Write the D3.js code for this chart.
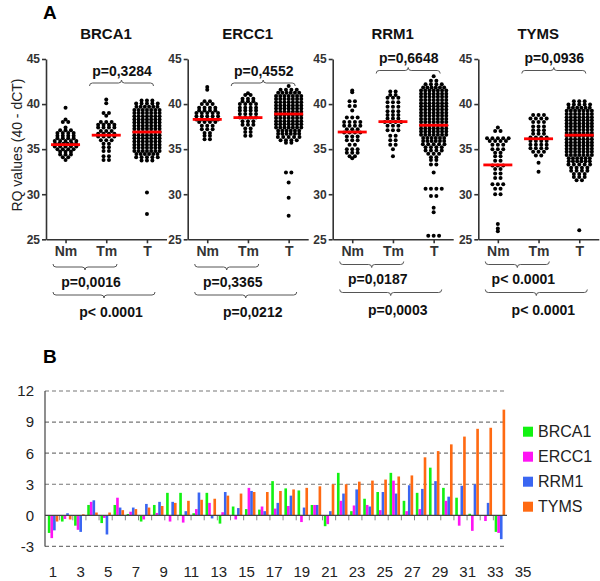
<!DOCTYPE html>
<html>
<head>
<meta charset="utf-8"/>
<script src="https://d3js.org/d3.v7.min.js"></script>
<style>
  body { margin: 0; background: #fff; }
  svg text { font-family: "Liberation Sans", Arial, Helvetica, sans-serif; }
</style>
</head>
<body>
<div id="chart"></div>
<script>
// ---- panel A data ----
var genes = ["BRCA1", "ERCC1", "RRM1", "TYMS"];
var groups = ["Nm", "Tm", "T"];
var rqTicks = [25, 30, 35, 40, 45];

// each row: [RQ value, number of dots side by side in that row]
var brcaNm = [[39.6,1],[38.3,1],[38.0,2],[37.4,1],[37.1,3],[36.8,4],[36.5,4],[36.2,4],[35.9,5],[35.6,6],[35.3,5],[35.0,4],[34.7,3],[34.4,3],[34.1,2],[33.8,1]];
var brcaTm = [[40.5,1],[40.1,1],[39.0,2],[38.7,1],[38.0,3],[37.7,4],[37.4,4],[37.0,3],[36.7,4],[36.4,4],[36.0,3],[35.6,2],[35.2,2],[34.8,2],[34.2,2],[33.8,2]];
var brcaT = [[40.4,3],[40.05,5],[39.7,6],[39.35,7],[39.0,7],[38.65,7],[38.3,7],[37.95,7],[37.6,7],[37.25,7],[36.9,7],[36.55,7],[36.2,7],[35.85,7],[35.5,7],[35.15,7],[34.8,7],[34.45,6],[34.1,5],[33.75,3],[30.2,1],[27.8,1]];

var erccNm = [[41.9,1],[41.6,1],[40.3,2],[40.0,3],[39.6,4],[39.3,4],[39.0,5],[38.65,5],[38.3,5],[38.0,4],[37.6,3],[37.2,3],[36.8,2],[36.5,2],[36.1,2]];
var erccTm = [[41.2,1],[41.0,2],[40.6,3],[40.3,3],[40.0,4],[39.6,4],[39.3,4],[38.9,4],[38.5,4],[38.1,3],[37.7,3],[37.3,2],[36.9,2],[36.5,2]];
var erccT = [[42.0,1],[41.6,4],[41.25,6],[40.9,7],[40.55,7],[40.2,7],[39.85,7],[39.5,7],[39.15,7],[38.8,7],[38.45,7],[38.1,7],[37.75,7],[37.4,7],[37.05,6],[36.7,6],[36.35,5],[36.0,4],[35.7,2],[32.4,2],[31.3,1],[29.6,1],[27.6,1]];

var rrmNm = [[41.5,1],[41.3,1],[40.3,2],[39.8,2],[39.3,1],[38.5,3],[38.0,4],[37.6,4],[37.2,3],[36.85,4],[36.4,3],[36.0,3],[35.5,2],[35.0,3],[34.6,3],[34.2,2],[34.0,1]];
var rrmTm = [[41.4,2],[41.0,2],[40.7,3],[40.2,3],[39.7,3],[39.2,3],[38.8,3],[38.4,3],[38.0,4],[37.6,3],[37.1,3],[36.5,2],[36.0,2],[35.5,2],[35.0,1],[34.2,1]];
var rrmT = [[43.1,1],[42.6,2],[42.2,4],[41.85,6],[41.5,7],[41.15,7],[40.8,7],[40.45,7],[40.1,7],[39.75,7],[39.4,7],[39.05,7],[38.7,7],[38.35,7],[38.0,7],[37.65,7],[37.3,7],[36.95,7],[36.6,7],[36.25,6],[35.9,6],[35.55,5],[35.2,4],[34.85,4],[34.5,3],[34.1,2],[33.8,2],[33.3,2],[32.4,1],[30.6,4],[29.8,2],[28.5,1],[28.0,1],[25.4,3]];

var tymsNm = [[37.4,1],[37.0,2],[36.2,5],[35.9,4],[35.5,3],[35.0,3],[34.6,2],[34.2,2],[33.7,2],[33.2,3],[32.8,2],[32.3,2],[31.8,2],[31.1,3],[30.6,2],[30.0,2],[26.7,1],[26.2,1],[25.9,1]];
var tymsTm = [[38.8,3],[38.4,4],[38.0,3],[37.5,3],[37.1,3],[36.7,3],[36.3,4],[35.9,4],[35.5,4],[35.1,4],[34.7,3],[34.3,2],[33.5,1],[32.5,1]];
var tymsT = [[40.3,3],[39.95,5],[39.6,6],[39.25,7],[38.9,7],[38.55,7],[38.2,7],[37.85,7],[37.5,7],[37.15,7],[36.8,7],[36.45,7],[36.1,7],[35.75,7],[35.4,7],[35.05,7],[34.7,7],[34.35,7],[34.0,6],[33.65,6],[33.3,5],[32.95,4],[32.6,4],[32.25,3],[31.9,3],[31.55,2],[26.0,1]];

var medians = [[35.5, 36.55, 36.9], [38.3, 38.5, 38.9], [36.9, 38.05, 37.65], [33.25, 36.15, 36.55]];
var pTmT = ["p=0,3284", "p=0,4552", "p=0,6648", "p=0,0936"];
var pNmTm = ["p=0,0016", "p=0,3365", "p=0,0187", "p< 0.0001"];
var pNmT = ["p< 0.0001", "p=0,0212", "p=0,0003", "p< 0.0001"];

// ---- panel B data ----
var series = ["BRCA1", "ERCC1", "RRM1", "TYMS"];
var patients = d3.range(1, 36);
var brca1Fc = [-1.7,-0.6,-1.0,1.0,-0.75,1.0,0.13,-0.6,1.0,2.17,2.17,0.2,2.17,-0.8,0.85,0.6,0.55,3.3,2.6,2.4,1.0,-1.05,4.1,0.4,1.6,2.25,4.1,1.4,2.17,4.6,2.65,1.7,0.15,0,-1.6];
var ercc1Fc = [-2.2,-0.35,-1.4,1.3,-0.25,1.7,0.35,-0.4,0.23,-0.6,-0.7,0.6,1.2,0.3,-0.4,2.65,0.85,0.65,0.9,-0.65,1.0,-0.85,1.4,0.95,1.0,0.5,3.35,0.4,0.6,0,1.4,-1.0,-1.5,-0.55,-1.7];
var rrm1Fc = [-1.45,0.2,-1.6,1.45,-1.85,0.75,0.75,1.1,1.3,1.3,0.4,2.2,-0.3,2.25,0.7,2.35,0.4,1.2,1.9,0.75,1.0,0.4,2.1,2.5,0.85,2.25,2.1,2.9,2.55,3.3,1.8,2.85,3.0,1.2,-2.3];
var tymsFc = [-0.6,-0.4,0.1,0.27,0.27,0.5,0.6,0.75,0.9,1.2,1.4,1.5,1.6,1.9,2.1,2.25,2.25,2.35,2.5,2.65,2.8,3.0,3.0,3.25,3.35,3.45,3.75,3.85,5.6,6.2,6.85,7.6,8.35,8.45,10.2];
var seriesColors = ["#12f212", "#ff14f4", "#3a66f2", "#ff6a12"];
var fcTicks = [-3, 0, 3, 6, 9, 12];
var fcLabels = [1,3,5,7,9,11,13,15,17,19,21,23,25,27,29,31,33,35];

var scatter = [[brcaNm, brcaTm, brcaT], [erccNm, erccTm, erccT], [rrmNm, rrmTm, rrmT], [tymsNm, tymsTm, tymsT]];
var fcData = [brca1Fc, ercc1Fc, rrm1Fc, tymsFc];

var svg = d3.select('#chart').append('svg').attr('width', 600).attr('height', 581);

// ================= panel A =================
svg.append('text').attr('x', 43).attr('y', 19).attr('font-size', 19).attr('font-weight', 'bold').text('A');

svg.append('text')
  .attr('transform', 'translate(22,145) rotate(-90)')
  .attr('text-anchor', 'middle').attr('font-size', 14).attr('fill', '#222')
  .text('RQ values (40 - dCT)');

var yA = d3.scaleLinear().domain([25, 45]).range([239.3, 59]);
var panelX = [46, 187.7, 332.7, 478.3];
var topShift = [0, 0, -12.5, -12.5];
var botShift = [0, 0, -2.5, -2.5];

function brace(x1, x2, y, dir) {
  // dir = -1 : tip points up, dir = 1 : tip points down
  var h = 3, m = (x1 + x2) / 2;
  return 'M' + x1 + ',' + (y - dir * h) +
    ' Q' + x1 + ',' + y + ' ' + (x1 + h) + ',' + y +
    ' L' + (m - h) + ',' + y +
    ' Q' + m + ',' + y + ' ' + m + ',' + (y + dir * h) +
    ' Q' + m + ',' + y + ' ' + (m + h) + ',' + y +
    ' L' + (x2 - h) + ',' + y +
    ' Q' + x2 + ',' + y + ' ' + x2 + ',' + (y - dir * h);
}

genes.forEach(function(g, i) {
  var gp = svg.append('g').attr('transform', 'translate(' + panelX[i] + ',0)');
  var x = d3.scalePoint().domain(groups).range([0, 120.5]).padding(0.48);

  gp.append('text').attr('x', 60).attr('y', 39).attr('text-anchor', 'middle')
    .attr('font-size', 15).attr('font-weight', 'bold').attr('fill', '#111').text(g);

  var ya = gp.append('g').call(d3.axisLeft(yA).tickValues(rqTicks).tickSize(4).tickSizeOuter(0).tickPadding(2));
  var xa = gp.append('g').attr('transform', 'translate(0,239.3)')
    .call(d3.axisBottom(x).tickSize(4).tickSizeOuter(0).tickPadding(3));
  [ya, xa].forEach(function(a) {
    a.selectAll('path, line').attr('stroke', '#333').attr('stroke-width', 1.6);
    a.selectAll('text').attr('font-weight', 'bold').attr('fill', '#333')
      .style('font-family', '"Liberation Sans", Arial, sans-serif');
  });
  ya.selectAll('text').attr('font-size', 12);
  xa.selectAll('text').attr('font-size', 14);

  // dots, rows laid out side by side (dense rows packed, sparse rows spread)
  groups.forEach(function(grp, k) {
    var cx = x(grp);
    scatter[i][k].forEach(function(row) {
      var n = row[1];
      var gap = n >= 6 ? 4.2 : 5.4;
      gp.selectAll(null).data(d3.range(n)).enter().append('circle')
        .attr('cx', function(j) { return cx + (j - (n - 1) / 2) * gap; })
        .attr('cy', yA(row[0]))
        .attr('r', 2)
        .attr('fill', '#000');
    });
  });

  // medians
  gp.selectAll('.med').data(medians[i]).enter().append('line')
    .attr('x1', function(d, k) { return x(groups[k]) - 14.5; })
    .attr('x2', function(d, k) { return x(groups[k]) + 14.5; })
    .attr('y1', function(d) { return yA(d); })
    .attr('y2', function(d) { return yA(d); })
    .attr('stroke', '#f00').attr('stroke-width', 2.8);

  // p values
  var ty = topShift[i], by = botShift[i];
  gp.append('path').attr('d', brace(43.5, 107.5, 83 + ty, -1))
    .attr('fill', 'none').attr('stroke', '#555').attr('stroke-width', 1);
  gp.append('text').attr('x', 76).attr('y', 75.5 + ty).attr('text-anchor', 'middle')
    .attr('font-size', 14).attr('font-weight', 'bold').attr('fill', '#111').text(pTmT[i]);

  gp.append('path').attr('d', brace(7, 71, 267 + by, 1))
    .attr('fill', 'none').attr('stroke', '#555').attr('stroke-width', 1);
  gp.append('text').attr('x', 45).attr('y', 286.5 + by).attr('text-anchor', 'middle')
    .attr('font-size', 14).attr('font-weight', 'bold').attr('fill', '#111').text(pNmTm[i]);

  gp.append('path').attr('d', brace(7, 109, 295 + by, 1))
    .attr('fill', 'none').attr('stroke', '#555').attr('stroke-width', 1);
  gp.append('text').attr('x', 65).attr('y', 317 + by).attr('text-anchor', 'middle')
    .attr('font-size', 14).attr('font-weight', 'bold').attr('fill', '#111').text(pNmT[i]);
});

// ================= panel B =================
svg.append('text').attr('x', 43).attr('y', 363).attr('font-size', 19).attr('font-weight', 'bold').text('B');

var xB = d3.scaleBand().domain(patients).range([46.5, 506.5]).paddingInner(0.2).paddingOuter(0.1);
var xSub = d3.scaleBand().domain(d3.range(4)).range([0, xB.bandwidth()]);
var yB = d3.scaleLinear().domain([-3, 12]).range([546.4, 391]);
var xLab = d3.scaleLinear().domain([1, 35]).range([53, 523]);

svg.selectAll('.grid').data(fcTicks.filter(function(t) { return t !== 0; })).enter().append('line')
  .attr('x1', 45).attr('x2', 507)
  .attr('y1', function(d) { return yB(d); }).attr('y2', function(d) { return yB(d); })
  .attr('stroke', '#777').attr('stroke-width', 1.2).attr('stroke-dasharray', '4,3');

svg.selectAll('.ylab').data(fcTicks).enter().append('text')
  .attr('x', 34).attr('y', function(d) { return yB(d); }).attr('dy', '0.36em')
  .attr('text-anchor', 'end').attr('font-size', 15).attr('fill', '#222')
  .text(function(d) { return d; });

series.forEach(function(s, k) {
  svg.selectAll('.bar' + k).data(fcData[k]).enter().append('rect')
    .attr('x', function(d, i) { return xB(patients[i]) + xSub(k); })
    .attr('y', function(d) { return yB(Math.max(0, d)); })
    .attr('width', xSub.bandwidth())
    .attr('height', function(d) { return Math.abs(yB(d) - yB(0)); })
    .attr('fill', seriesColors[k]);
});

// small ticks between patient groups
svg.selectAll('.gap').data(patients.slice(1)).enter().append('line')
  .attr('x1', function(d) { return xB(d) - xB.step() * 0.1; })
  .attr('x2', function(d) { return xB(d) - xB.step() * 0.1; })
  .attr('y1', yB(0)).attr('y2', yB(0) + 5)
  .attr('stroke', '#888').attr('stroke-width', 1);

svg.append('line').attr('x1', 45).attr('x2', 507).attr('y1', yB(0)).attr('y2', yB(0))
  .attr('stroke', '#444').attr('stroke-width', 1.2);
svg.append('line').attr('x1', 45).attr('x2', 45).attr('y1', yB(12)).attr('y2', yB(-3))
  .attr('stroke', '#444').attr('stroke-width', 1.2);

svg.selectAll('.xlab').data(fcLabels).enter().append('text')
  .attr('x', function(d) { return xLab(d); }).attr('y', 577)
  .attr('text-anchor', 'middle').attr('font-size', 15).attr('fill', '#222')
  .text(function(d) { return d; });

var leg = svg.selectAll('.leg').data(series).enter().append('g')
  .attr('transform', function(d, k) { return 'translate(523,' + (431.7 + k * 25) + ')'; });
leg.append('rect').attr('x', 0).attr('y', -5).attr('width', 10).attr('height', 10)
  .attr('fill', function(d, k) { return seriesColors[k]; });
leg.append('text').attr('x', 15).attr('y', 0).attr('dy', '0.36em')
  .attr('font-size', 16).attr('fill', '#222').text(function(d) { return d; });
</script>
</body>
</html>
